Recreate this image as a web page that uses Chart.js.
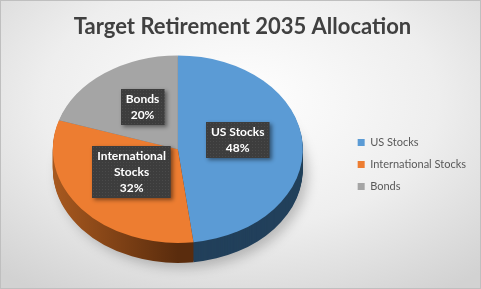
<!DOCTYPE html>
<html>
<head>
<meta charset="utf-8">
<script src="https://cdn.jsdelivr.net/npm/chart.js@4.4.0/dist/chart.umd.min.js"></script>
<style>
  html, body { margin: 0; padding: 0; }
  #wrap {
    width: 479px;
    height: 287px;
    border: 1px solid #bfbfbf;
    background: radial-gradient(ellipse 75% 80% at 50% 35%, #ffffff 0%, #eeeeee 55%, #d2d2d2 100%);
  }
</style>
</head>
<body>
<div id="wrap"><canvas id="pieChart" width="479" height="287"></canvas></div>
<script>
// chart data
const categories = ['US Stocks', 'International Stocks', 'Bonds'];
const allocation = [48, 32, 20];

const topColors = ['#5b9bd5', '#ed7d31', '#a5a5a5'];

// 3d look
const TILT = 0.75;      // vertical squash of the pie face
const DEPTH = 20;       // thickness of the pie in px
const SHIFT_Y = -20;    // move pie face up from the chart area centre
const LABEL_RADIUS = 0.48;
const LABEL_LIFT = -6;

// side wall fill per slice
const sideFill = (ctx, i, cx, r) => {
  if (i === 1) {
    const g = ctx.createLinearGradient(cx - r, 0, cx, 0);
    g.addColorStop(0, '#a8591f');
    g.addColorStop(1, '#5a2c0d');
    return g;
  }
  return i === 0 ? '#22405b' : '#6e6e6e';
};

// wrap a label into lines that fit maxWidth
const wrap = (ctx, text, maxWidth) => {
  const words = text.split(' ');
  const lines = [];
  let line = '';
  words.forEach(w => {
    const test = line ? line + ' ' + w : w;
    if (line && ctx.measureText(test).width > maxWidth) {
      lines.push(line);
      line = w;
    } else {
      line = test;
    }
  });
  lines.push(line);
  return lines;
};

const pie3d = {
  id: 'pie3d',
  beforeDatasetsDraw(chart) {
    const ctx = chart.ctx;
    const arcs = chart.getDatasetMeta(0).data;
    const { x, y, outerRadius } = arcs[0];

    // soft shadow below the pie
    ctx.save();
    ctx.filter = 'blur(6px)';
    ctx.fillStyle = 'rgba(0,0,0,0.22)';
    ctx.beginPath();
    ctx.ellipse(x + 5, y + SHIFT_Y + DEPTH + 5, outerRadius, outerRadius * TILT, 0, 0, Math.PI * 2);
    ctx.fill();
    ctx.restore();

    // side walls, stacked from the bottom up
    for (let k = DEPTH; k > 0; k--) {
      ctx.save();
      ctx.translate(x, y + SHIFT_Y + k);
      ctx.scale(1, TILT);
      ctx.translate(-x, -y);
      arcs.forEach((arc, i) => {
        const wall = Object.create(arc);
        wall.options = Object.assign({}, arc.options, {
          backgroundColor: sideFill(ctx, i, x, outerRadius),
          borderWidth: 0
        });
        wall.draw(ctx);
      });
      ctx.restore();
    }

    // the library draws the top face with this transform
    ctx.save();
    ctx.translate(x, y + SHIFT_Y);
    ctx.scale(1, TILT);
    ctx.translate(-x, -y);
  },
  afterDatasetsDraw(chart) {
    chart.ctx.restore();
  },
  afterDraw(chart) {
    const ctx = chart.ctx;
    const arcs = chart.getDatasetMeta(0).data;
    ctx.save();
    ctx.font = 'bold 12px Lato';
    ctx.textAlign = 'center';
    ctx.textBaseline = 'middle';
    arcs.forEach((arc, i) => {
      const mid = (arc.startAngle + arc.endAngle) / 2;
      const r = arc.outerRadius * LABEL_RADIUS;
      const lx = arc.x + Math.cos(mid) * r;
      const ly = arc.y + SHIFT_Y + LABEL_LIFT + Math.sin(mid) * r * TILT;
      const lines = wrap(ctx, categories[i], 80).concat(allocation[i] + '%');
      const lh = 16;
      const w = Math.max(...lines.map(l => ctx.measureText(l).width)) + 10;
      const h = lines.length * lh + 4;
      const bx = Math.round(lx - w / 2);
      const by = Math.round(ly - h / 2);

      ctx.save();
      ctx.shadowColor = 'rgba(0,0,0,0.45)';
      ctx.shadowBlur = 4;
      ctx.shadowOffsetX = 2;
      ctx.shadowOffsetY = 2;
      ctx.fillStyle = '#3d3d3d';
      ctx.fillRect(bx, by, w, h);
      ctx.restore();

      // dotted texture
      ctx.fillStyle = 'rgba(255,255,255,0.07)';
      for (let px = bx + 1; px < bx + w; px += 3) {
        for (let py = by + 1; py < by + h; py += 3) {
          ctx.fillRect(px, py, 1, 1);
        }
      }

      ctx.fillStyle = '#ffffff';
      lines.forEach((l, j) => {
        ctx.fillText(l, lx, by + 2 + lh / 2 + j * lh);
      });
    });
    ctx.restore();
  }
};

const pieChart = new Chart(document.getElementById('pieChart'), {
  type: 'pie',
  data: {
    labels: categories,
    datasets: [{
      data: allocation,
      backgroundColor: topColors,
      borderWidth: 0,
      radius: 125,
      clip: false
    }]
  },
  options: {
    responsive: false,
    animation: false,
    layout: {
      padding: { left: 8, right: 4, top: 0, bottom: -40 }
    },
    plugins: {
      title: {
        display: true,
        text: 'Target Retirement 2035 Allocation',
        color: '#404040',
        font: { family: 'Lato', size: 22, weight: 'bold' },
        padding: { top: 13, bottom: 10 }
      },
      legend: {
        position: 'right',
        labels: {
          boxWidth: 7,
          boxHeight: 7,
          padding: 11,
          color: '#595959',
          font: { family: 'Lato', size: 11 }
        }
      },
      tooltip: { enabled: false }
    }
  },
  plugins: [pie3d]
});
</script>
</body>
</html>
